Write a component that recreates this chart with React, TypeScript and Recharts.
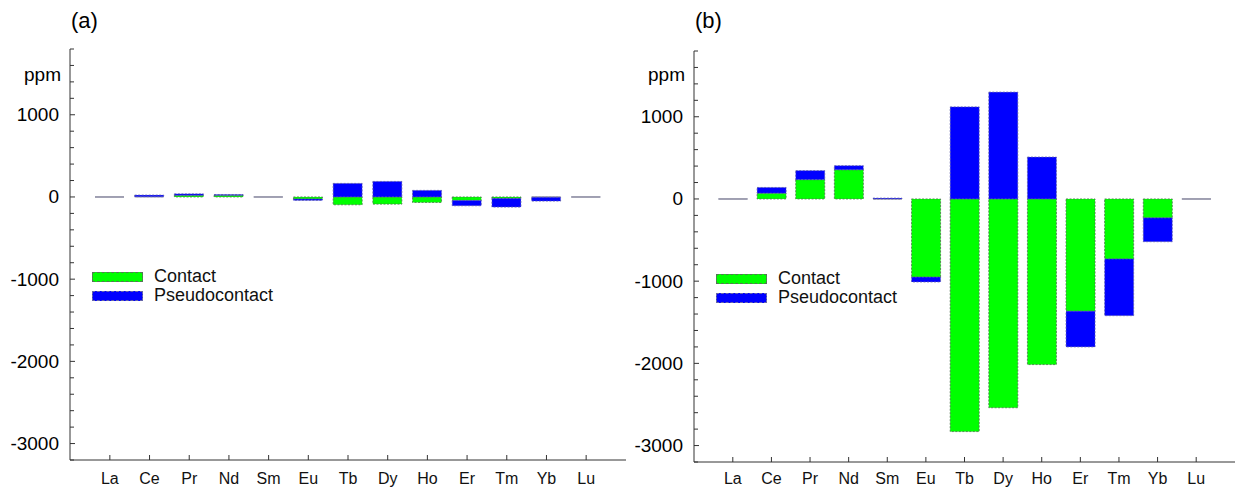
import React from "react"
import { BarChart, Bar, XAxis, YAxis } from "recharts"

const elements = ["La", "Ce", "Pr", "Nd", "Sm", "Eu", "Tb", "Dy", "Ho", "Er", "Tm", "Yb", "Lu"]

// panel (a)
const contactA = [0, 3, 20, 20, 0, -25, -95, -87, -67, -42, -18, -4, 0]
const pseudoA = [0, 20, 18, 10, 0, -17, 165, 189, 80, -65, -105, -46, 0]

// panel (b)
const contactB = [0, 70, 235, 355, 0, -950, -2830, -2540, -2015, -1365, -730, -230, 0]
const pseudoB = [0, 70, 110, 50, 10, -60, 1120, 1300, 510, -435, -690, -290, 0]

const yTicks = [-3200, -3000, -2800, -2600, -2400, -2200, -2000, -1800, -1600, -1400, -1200, -1000, -800, -600, -400, -200, 0, 200, 400, 600, 800, 1000, 1200, 1400, 1600, 1800]

const font = "'Liberation Sans', Arial, Helvetica, sans-serif"
const GREEN = "#00ff00"
const BLUE = "#0000ff"

function BarShape(props: any) {
  const { x, y, width, height, fill, stroke } = props
  if (x == null || y == null) return null
  const h = Math.abs(height || 0)
  const top = height < 0 ? y + height : y
  if (h < 0.5) {
    return <line x1={x} x2={x + width} y1={top} y2={top} stroke={fill === BLUE && props.value && (props.value[1] - props.value[0]) !== 0 ? "#3333dd" : "#9c9cb0"} strokeWidth={1.6} />
  }
  return <rect x={x} y={top} width={width} height={h} fill={fill} stroke={stroke} strokeWidth={0.8} strokeDasharray="2 1.5" />
}

function YTick(props: any) {
  const { x, y, payload } = props
  const v = payload.value
  const major = v % 1000 === 0
  return (
    <g>
      <line x1={x} x2={x + (major ? 5 : 4)} y1={y} y2={y} stroke="#333" strokeWidth={1} />
      {major && (
        <text x={x - 11} y={y} textAnchor="end" dominantBaseline="central" fontSize={19} fontFamily={font} fill="#000">
          {v}
        </text>
      )}
    </g>
  )
}

function LegendBox({ left, top }: { left: number; top: number }) {
  const sw = (color: string, border: string) => ({
    width: 49,
    height: 8,
    background: color,
    border: `1px dashed ${border}`,
    marginRight: 11,
  })
  const row = { display: "flex", alignItems: "center", height: 19 }
  return (
    <div style={{ position: "absolute", left, top, fontFamily: font, fontSize: 18, color: "#111" }}>
      <div style={row}>
        <div style={sw(GREEN, "#557755")} />
        <span>Contact</span>
      </div>
      <div style={row}>
        <div style={sw(BLUE, "#6666aa")} />
        <span>Pseudocontact</span>
      </div>
    </div>
  )
}

function Panel({
  contact,
  pseudo,
  label,
  left,
  width,
  top,
  axisH,
  right,
  pad,
  tickGap,
  legendLeft,
  legendTop,
}: any) {
  const data = elements.map((el, i) => ({ el, contact: contact[i], pseudo: pseudo[i] }))
  return (
    <div style={{ position: "absolute", left, top: 0, width, height: 488 }}>
      <div style={{ position: "absolute", left: 71, top: 8, fontFamily: font, fontSize: 22 }}>{label}</div>
      <div style={{ position: "absolute", right: width - 61, top: 64, fontFamily: font, fontSize: 19 }}>ppm</div>
      <BarChart
        width={width}
        height={488}
        data={data}
        stackOffset="sign"
        margin={{ top, left: 10, right, bottom: 0 }}
        barCategoryGap={0}
        style={{ overflow: "visible" }}
      >
        <XAxis
          dataKey="el"
          height={axisH}
          padding={{ left: pad, right: pad }}
          interval={0}
          tickSize={-5}
          tickMargin={tickGap}
          axisLine={{ stroke: "#333" }}
          tickLine={{ stroke: "#333" }}
          tick={{ fontSize: 16, fontFamily: font, fill: "#111" }}
        />
        <YAxis
          width={60}
          type="number"
          domain={[-3200, 1800]}
          ticks={yTicks}
          interval={0}
          allowDataOverflow
          tickSize={0}
          tickMargin={0}
          tickLine={false}
          axisLine={{ stroke: "#333" }}
          tick={<YTick />}
        />
        <Bar dataKey="contact" stackId="s" fill={GREEN} stroke="#4d704d" barSize={29} shape={<BarShape />} isAnimationActive={false} />
        <Bar dataKey="pseudo" stackId="s" fill={BLUE} stroke="#6060a8" barSize={29} shape={<BarShape />} isAnimationActive={false} />
      </BarChart>
      <LegendBox left={legendLeft} top={legendTop} />
    </div>
  )
}

export default function App() {
  return (
    <div style={{ position: "absolute", left: 0, top: 0, width: 1237, height: 488, background: "#fff" }}>
      <Panel
        contact={contactA}
        pseudo={pseudoA}
        label="(a)"
        left={0}
        width={630}
        top={49}
        axisH={28}
        right={4}
        pad={20}
        tickGap={18}
        legendLeft={92}
        legendTop={267}
      />
      <Panel
        contact={contactB}
        pseudo={pseudoB}
        label="(b)"
        left={624}
        width={613}
        top={51}
        axisH={26}
        right={2}
        pad={19.5}
        tickGap={16}
        legendLeft={92}
        legendTop={269}
      />
    </div>
  )
}
